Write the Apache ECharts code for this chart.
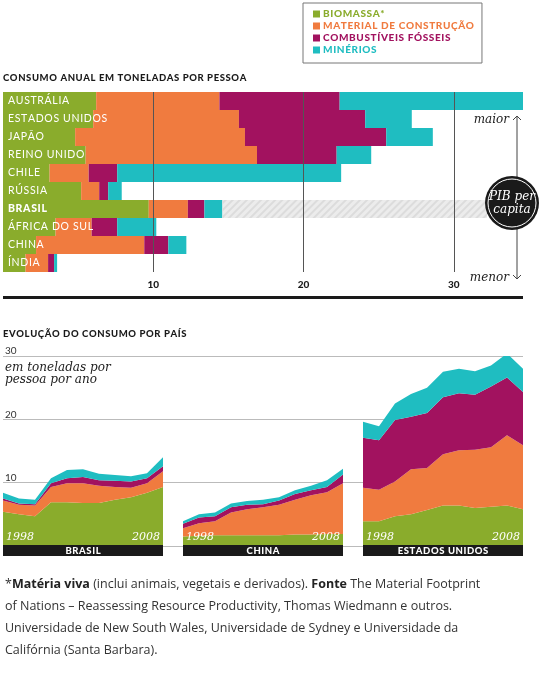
<!DOCTYPE html>
<html><head><meta charset="utf-8">
<script src="https://cdn.jsdelivr.net/npm/echarts@6/dist/echarts.min.js"></script>
<style>html,body{margin:0;padding:0;background:#fff}#c{width:550px;height:691px}</style>
</head><body><div id="c"></div>
<script>
const countries = ['AUSTRÁLIA','ESTADOS UNIDOS','JAPÃO','REINO UNIDO','CHILE','RÚSSIA','BRASIL','ÁFRICA DO SUL','CHINA','ÍNDIA'];
const barBiomassa = [6.2,6.0,4.8,5.5,3.1,5.2,9.7,3.5,2.2,1.5];
const barConstrucao = [8.2,9.7,11.3,11.4,2.6,1.2,2.6,2.4,7.2,1.5];
const barFosseis = [8.0,8.4,9.4,5.3,1.9,0.6,1.1,1.7,1.6,0.4];
const barMinerios = [12.2,3.1,3.1,2.3,14.9,0.9,1.2,2.6,1.2,0.2];
const barBrasilFaixa = [null,null,null,null,null,null,17.6,null,null,null];
const xTicks = [10,20,30];

const years = ['1998','1999','2000','2001','2002','2003','2004','2005','2006','2007','2008'];
const brBiomassa = [5.4,5.0,4.7,6.9,6.9,6.8,6.8,7.3,7.7,8.4,9.3];
const brConstrucao = [1.8,1.5,1.7,2.4,3.0,3.1,2.7,2.0,1.5,1.5,2.5];
const brFosseis = [0.3,0.2,0.2,0.6,0.8,1.0,0.9,1.0,1.0,0.8,0.8];
const brMinerios = [0.9,0.8,0.7,0.8,1.3,1.2,1.0,0.9,0.8,0.8,1.4];
const cnBiomassa = [1.5,1.6,1.7,1.7,1.7,1.7,1.7,1.8,1.8,1.9,1.9];
const cnConstrucao = [1.3,2.0,2.2,3.6,4.1,4.4,4.8,5.5,6.2,6.6,8.0];
const cnFosseis = [0.7,0.9,0.8,0.8,0.7,0.5,0.7,0.9,0.8,0.8,1.4];
const cnMinerios = [0.4,0.5,0.6,0.6,0.6,0.7,0.5,0.6,0.7,1.1,0.9];
const usBiomassa = [3.9,3.9,4.7,5.0,5.7,6.4,6.4,6.0,6.2,6.4,5.8];
const usConstrucao = [5.3,5.0,5.5,7.1,6.6,8.1,8.7,9.2,9.4,11.1,10.1];
const usFosseis = [7.9,7.8,9.7,8.3,8.7,9.0,9.0,8.7,9.6,9.1,8.4];
const usMinerios = [2.5,2.2,2.6,3.6,4.0,4.0,3.9,3.7,3.3,3.8,3.7];
const yTicks = [10,20,30];

const legendLabels = ['BIOMASSA*','MATERIAL DE CONSTRUÇÃO','COMBUSTÍVEIS FÓSSEIS','MINÉRIOS'];
const colors = ['#8aac2c','#f07b3f','#a2125f','#1fbdc1'];
const sans = 'Lato, "DejaVu Sans", sans-serif';
const serif = '"DejaVu Serif", "Liberation Serif", serif';
const sp = s => s.split('').join('\u200A');

const chart = echarts.init(document.getElementById('c'), null, {renderer:'canvas'});

const barSeries = [barBiomassa,barConstrucao,barFosseis,barMinerios].map((d,i)=>({
  type:'bar', name:legendLabels[i], stack:'b', xAxisIndex:0, yAxisIndex:0,
  data:d, barCategoryGap:'0%', itemStyle:{color:colors[i]}, silent:true
}));
barSeries.push({type:'bar', name:'faixa', stack:'b', xAxisIndex:0, yAxisIndex:0, data:barBrasilFaixa,
  barCategoryGap:'0%', itemStyle:{color:'#ececec', decal:{symbol:'rect', dashArrayX:[1,0], dashArrayY:[2,3], rotation:-Math.PI/4, color:'#dcdcdc'}},
  markLine:{symbol:'none', silent:true, label:{show:false}, lineStyle:{color:'#555', width:1, type:'solid'},
    data: xTicks.map(v=>({xAxis:v}))}, z:3});

const panels = [[brBiomassa,brConstrucao,brFosseis,brMinerios],[cnBiomassa,cnConstrucao,cnFosseis,cnMinerios],[usBiomassa,usConstrucao,usFosseis,usMinerios]];
const areaSeries = [];
panels.forEach((p,k)=>{
  p.forEach((d,i)=>{
    areaSeries.push({type:'line', name:legendLabels[i], stack:'p'+k, xAxisIndex:k+1, yAxisIndex:k+1,
      data:d, showSymbol:false, symbol:'none', lineStyle:{width:0}, areaStyle:{color:colors[i], opacity:1},
      itemStyle:{color:colors[i]}, silent:true, z:2});
  });
});

const pLefts = [3,183,363];
const pW = 160;
const pLabels = ['BRASIL','CHINA','ESTADOS UNIDOS'];
const graphics = [
  {type:'text', left:3, top:73, style:{text:sp('CONSUMO ANUAL EM TONELADAS POR PESSOA'), font:'900 9.5px '+sans, fill:'#1a1a1a'}},
  {type:'text', left:3, top:329, style:{text:sp('EVOLUÇÃO DO CONSUMO POR PAÍS'), font:'900 9.5px '+sans, fill:'#1a1a1a'}},
  {type:'rect', shape:{x:3,y:296,width:520,height:3}, style:{fill:'#1a1a1a'}},
  {type:'line', shape:{x1:517,y1:116,x2:517,y2:279}, style:{stroke:'#444', lineWidth:1}},
  {type:'polyline', shape:{points:[[513,120],[517,116],[521,120]]}, style:{stroke:'#444', fill:null, lineWidth:1}},
  {type:'polyline', shape:{points:[[513,275],[517,279],[521,275]]}, style:{stroke:'#444', fill:null, lineWidth:1}},
  {type:'text', x:509, y:120, style:{text:'maior', font:'italic 12px '+serif, fill:'#222', align:'right', verticalAlign:'middle'}},
  {type:'text', x:509, y:278, style:{text:'menor', font:'italic 12px '+serif, fill:'#222', align:'right', verticalAlign:'middle'}},
  {type:'circle', shape:{cx:512,cy:203,r:27}, style:{fill:'#1a1a1a'}, z:10},
  {type:'circle', shape:{cx:512,cy:203,r:24}, style:{fill:'none', stroke:'#fff', lineWidth:1}, z:11},
  {type:'text', x:512, y:203, z:12, style:{text:'PIB per\ncapita', font:'italic 12px '+serif, fill:'#fff', align:'center', verticalAlign:'middle', lineHeight:13}},
  {type:'text', left:5, top:362, style:{text:'em toneladas por\npessoa por ano', font:'italic 12px '+serif, fill:'#222', lineHeight:12}},
  {type:'text', left:5, top:573, style:{
    text:'*{b|Matéria viva} (inclui animais, vegetais e derivados). {b|Fonte} The Material Footprint\nof Nations – Reassessing Resource Productivity, Thomas Wiedmann e outros.\nUniversidade de New South Wales, Universidade de Sydney e Universidade da\nCalifórnia (Santa Barbara).',
    font:'12.5px "Open Sans", sans-serif', fill:'#333', lineHeight:22,
    rich:{b:{font:'bold 12.5px "Open Sans", sans-serif', fill:'#222'}}}}
];
pLefts.forEach((l,k)=>{
  graphics.push({type:'rect', shape:{x:l,y:545,width:pW,height:11}, style:{fill:'#1a1a1a'}, z:5});
  graphics.push({type:'text', x:l+pW/2, y:551, z:6, style:{text:sp(pLabels[k]), font:'900 9.5px '+sans, fill:'#fff', align:'center', verticalAlign:'middle'}});
  graphics.push({type:'text', x:l+3, y:537, z:6, style:{text:'1998', font:'italic 11px '+serif, fill:'#fff', verticalAlign:'middle'}});
  graphics.push({type:'text', x:l+pW-3, y:537, z:6, style:{text:'2008', font:'italic 11px '+serif, fill:'#fff', align:'right', verticalAlign:'middle'}});
});

const option = {
  animation:false,
  textStyle:{fontFamily:sans},
  legend:{
    left:303, top:3, width:220, height:52, orient:'vertical', padding:[6,8,8,10],
    borderColor:'#777', borderWidth:1, itemWidth:7, itemHeight:7, itemGap:2, icon:'rect',
    data: legendLabels.map((n,i)=>({name:n, textStyle:{color:colors[i]}})),
    formatter: n => sp(n),
    textStyle:{fontFamily:sans, fontWeight:900, fontSize:10, padding:[0,0,0,-2]},
    selectedMode:false
  },
  grid:[
    {left:2, top:92, width:521, height:180},
    {left:pLefts[0], top:356, width:pW, height:190},
    {left:pLefts[1], top:356, width:pW, height:190},
    {left:pLefts[2], top:356, width:pW, height:190},
    {left:3, top:356, width:520, height:190}
  ],
  xAxis:[
    {type:'value', gridIndex:0, min:0, max:34.6, interval:10, axisLine:{show:false}, axisTick:{show:false}, splitLine:{show:false},
     axisLabel:{fontWeight:900, fontSize:10, color:'#1a1a1a', formatter:v=>xTicks.includes(v)?String(v):''}},
    ...[1,2,3].map(g=>({type:'category', gridIndex:g, data:years, boundaryGap:false, show:false})),
    {type:'value', gridIndex:4, show:false, min:0, max:1}
  ],
  yAxis:[
    {type:'category', gridIndex:0, data:countries, inverse:true, axisLine:{show:false}, axisTick:{show:false}, z:10,
     axisLabel:{inside:true, margin:5, fontSize:10.5, color:'#fff', fontFamily:sans,
       formatter:v=>v==='BRASIL'?'{b|'+sp(v)+'}':sp(v), rich:{b:{fontWeight:900, color:'#fff', fontSize:10.5}}}},
    ...[1,2,3].map(g=>({type:'value', gridIndex:g, min:0, max:30, interval:10, show:false})),
    {type:'value', gridIndex:4, min:0, max:30, interval:10, axisLine:{show:false}, axisTick:{show:false},
     splitLine:{lineStyle:{color:'#bbb', width:1}},
     axisLabel:{inside:true, verticalAlign:'bottom', margin:2, fontSize:10, color:'#333', formatter:v=>yTicks.includes(v)?String(v):''}}
  ],
  series:[...barSeries, ...areaSeries],
  graphic:graphics
};
chart.setOption(option);
</script></body></html>
